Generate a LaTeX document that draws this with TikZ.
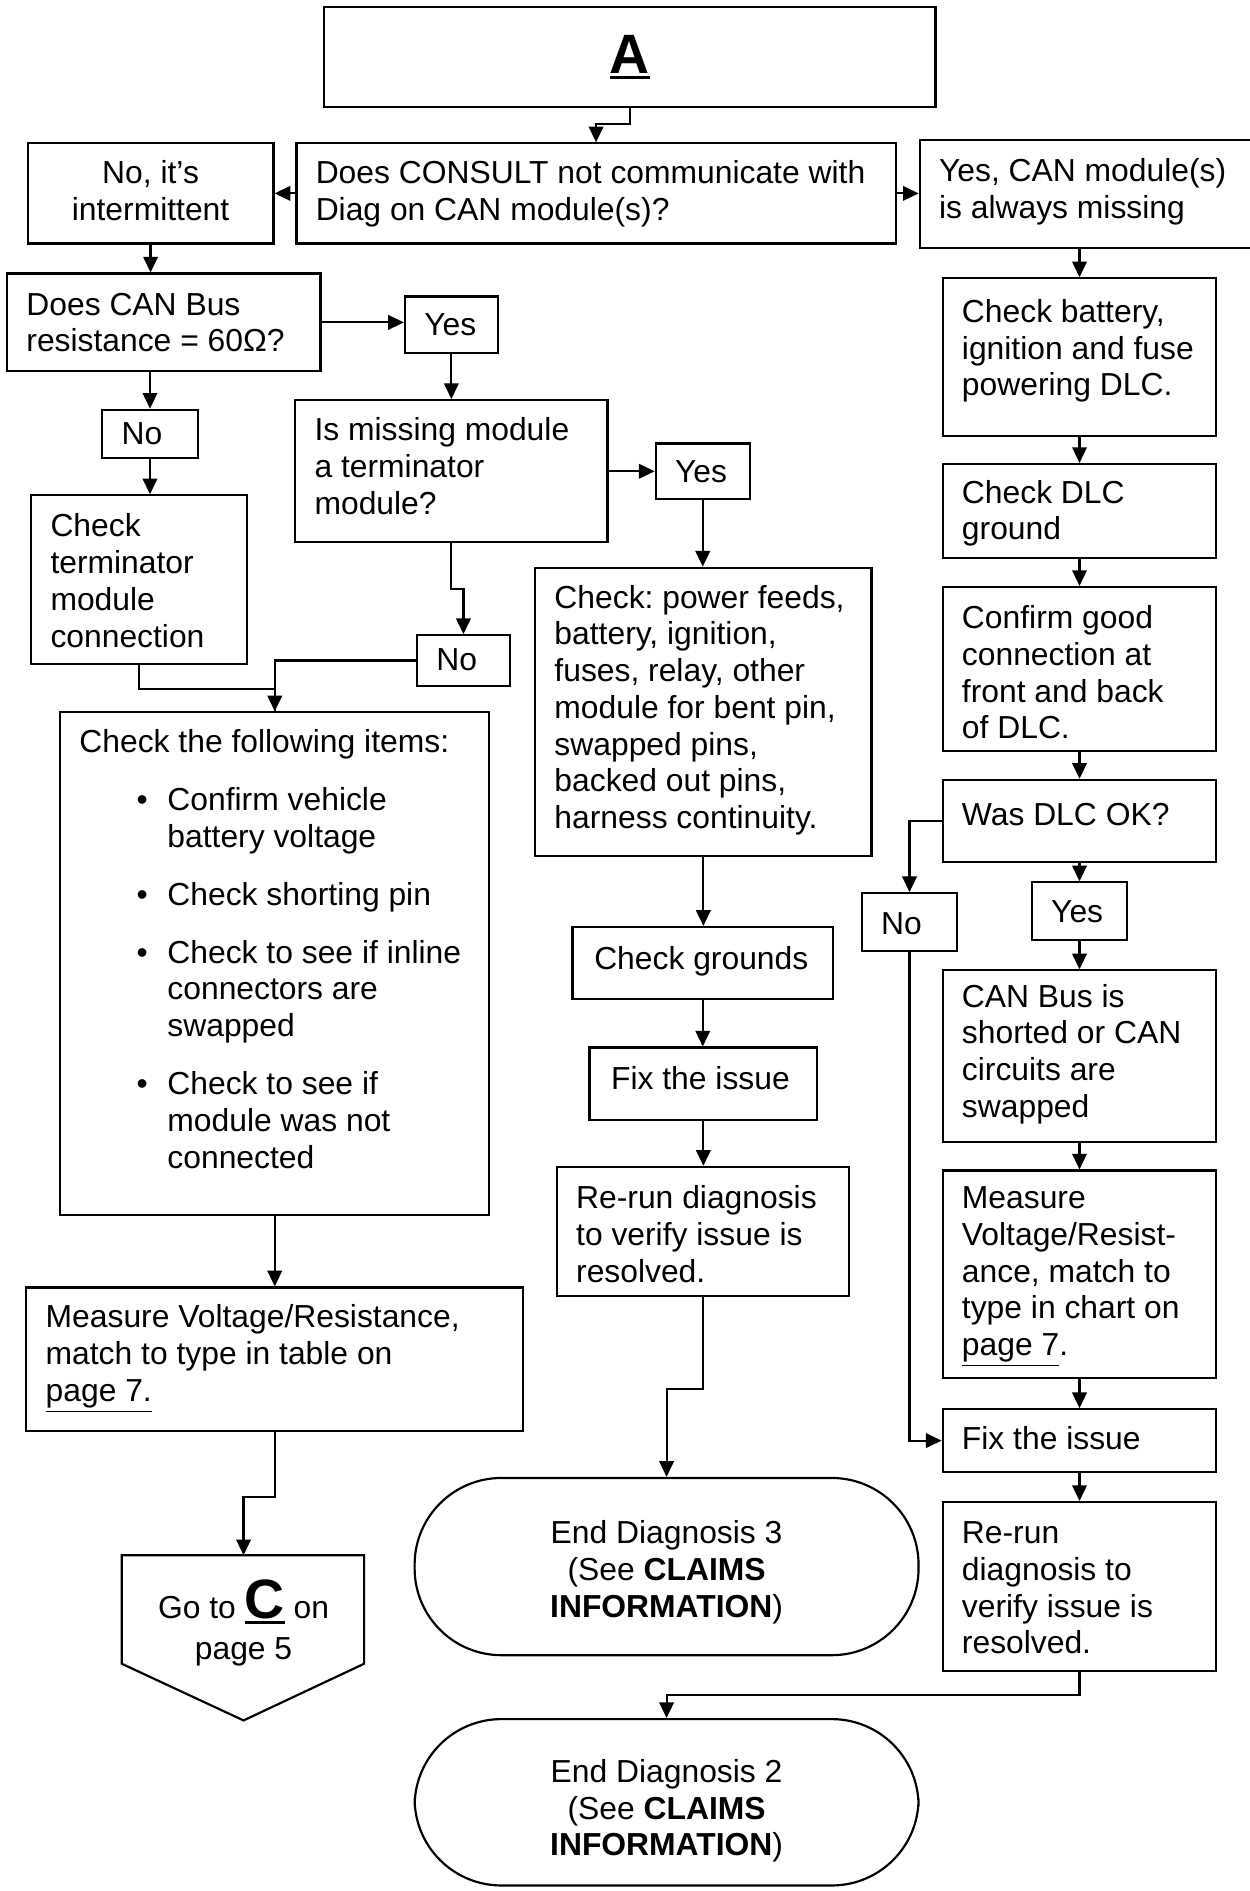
\documentclass[tikz,border=0pt]{standalone}
\usepackage{fontspec}
\setmainfont{Liberation Sans}
\usetikzlibrary{arrows.meta}
\frenchspacing

\newcommand{\fs}{\fontsize{13.2}{15.25}\selectfont}
% box text: width, height, first baseline (all in picture units), text
\newcommand{\tb}[4]{\parbox[t][\dimexpr#2pt/2\relax][t]{\dimexpr#1pt/2\relax}{\raggedright\leftskip=8pt\rule{0pt}{\dimexpr#3pt/2\relax}#4}}
\newcommand{\thickul}[1]{\vtop{\hbox{#1}\kern1pt\hrule height1.4pt}}
\newcommand{\bigletter}[1]{\thickul{\fontsize{23}{23}\selectfont\bfseries #1}}
\newcommand{\itm}{\par\vspace{8.75pt}\leavevmode\llap{\textbullet\hspace{8.2pt}}}

\begin{document}
\begin{tikzpicture}[x=0.5pt,y=-0.5pt,font=\fs,
 box/.style={draw,line width=0.9pt,anchor=north west,inner sep=0pt},
 term/.style={draw,line width=0.9pt,anchor=north west,inner sep=0pt,rounded corners=36pt},
 conn/.style={line width=0.9pt},
 arr/.style={line width=0.9pt,-{Triangle[length=6.5pt,width=6pt]}}]
 \useasboundingbox (0,0) rectangle (1036,1568.5);

 % top
 \node[box,minimum width=253.5pt,minimum height=41.5pt] (a) at (268,5) {\bigletter{A}};
 \node[box] (q1) at (245,118) {\tb{497}{83}{33.5}{Does CONSULT not communicate with\\Diag on CAN module(s)?}};
 \node[box] (nint) at (22,118) {\tb{204}{83}{33.5}{\centering No, it’s\\intermittent}};
 \node[box] (ycan) at (762,115) {\tb{280}{90}{34.5}{Yes, CAN module(s)\\is always missing}};

 % left branch
 \node[box] (q2) at (5,226) {\tb{260}{81}{34.5}{Does CAN Bus\\resistance = 60Ω?}};
 \node[box] (y1) at (335,245) {\tb{77}{47}{32.5}{Yes}};
 \node[box] (n1) at (84,339) {\tb{79}{40}{28.5}{No}};
 \node[box] (q3) at (244,331) {\tb{259}{118}{33.5}{Is missing module\\a terminator\\module?}};
 \node[box] (ckterm) at (25,410) {\tb{179}{140}{34.5}{Check\\terminator\\module\\connection}};
 \node[box] (n2) at (345,526) {\tb{77}{42}{29.5}{No}};
 \node[box] (items) at (49,590) {\tb{356}{417}{33.5}{Check the following items:\par
   \leftskip=44.5pt
   \itm Confirm vehicle\\battery voltage
   \itm Check shorting pin
   \itm Check to see if inline\\connectors are\\swapped
   \itm Check to see if\\module was not\\connected}};
 \node[box] (meas) at (21,1067) {\tb{412}{119}{33.5}{Measure Voltage/Resistance,\\match to type in table on\\\underline{page 7.}}};
 \node (goc) at (202,1346) [align=center] {Go to \bigletter{C} on\\[2pt]page 5};
 \coordinate (gotop) at (202,1290);
 \draw[line width=0.9pt] (101,1290) -- (302,1290) -- (302,1380) -- (202,1427) -- (101,1380) -- cycle;

 % middle branch
 \node[box] (y2) at (543,367) {\tb{78}{46}{32.5}{Yes}};
 \node[box] (ckpow) at (443,470) {\tb{279}{239}{33.5}{Check: power feeds,\\battery, ignition,\\fuses, relay, other\\module for bent pin,\\swapped pins,\\backed out pins,\\harness continuity.}};
 \node[box] (ckgnd) at (474,768) {\tb{216}{60}{35.5}{\hspace{1pt}Check grounds}};
 \node[box] (fix1) at (488,868) {\tb{189}{60}{34.5}{\hspace{1pt}Fix the issue}};
 \node[box] (rerun1) at (461,967) {\tb{242}{107}{34.5}{Re-run diagnosis\\to verify issue is\\resolved.}};
 \node[term] (end3) at (343,1225) {\tb{418}{147}{54.5}{\centering End Diagnosis 3\\(See \textbf{CLAIMS}\\\textbf{INFORMATION})}};

 % right branch
 \node[box] (ckbat) at (781,230) {\tb{227}{131}{36.5}{Check battery,\\ignition and fuse\\powering DLC.}};
 \node[box] (ckdlc) at (781,384) {\tb{227}{78}{32.5}{Check DLC\\ground}};
 \node[box] (conf) at (781,486) {\tb{227}{136}{34.5}{Confirm good\\connection at\\front and back\\of DLC.}};
 \node[box] (wasdlc) at (781,646) {\tb{227}{68}{37.5}{Was DLC OK?}};
 \node[box] (n3) at (714,740) {\tb{79}{48}{34.5}{No}};
 \node[box] (y3) at (855,731) {\tb{79}{48}{33.5}{Yes}};
 \node[box] (short) at (781,804) {\tb{227}{142}{30.5}{CAN Bus is\\shorted or CAN\\circuits are\\swapped}};
 \node[box] (meas2) at (781,970) {\tb{227}{172}{31.5}{Measure\\Voltage/Resist-\\ance, match to\\type in chart on\\\underline{page 7}.}};
 \node[box] (fix2) at (781,1168) {\tb{227}{52}{33.5}{Fix the issue}};
 \node[box] (rerun2) at (781,1245) {\tb{227}{140}{34.5}{Re-run\\diagnosis to\\verify issue is\\resolved.}};
 \node[term] (end2) at (343,1425) {\tb{418}{138}{52.5}{\centering End Diagnosis 2\\(See \textbf{CLAIMS}\\\textbf{INFORMATION})}};

 % connectors
 \draw[arr] (a.south) -- ++(0,13) -| (q1.north);
 \draw[arr] (q1.west) -- (nint.east);
 \draw[arr] (q1.east) -- (q1.east -| ycan.west);
 \draw[arr] (nint.south) -- (nint.south |- q2.north);
 \draw[arr] (q2.east) -- (q2.east -| y1.west);
 \draw[arr] (y1.south) -- (q3.north);
 \draw[arr] (n1.north |- q2.south) -- (n1.north);
 \draw[arr] (n1.south) -- (n1.south |- ckterm.north);
 \draw[arr] (q3.east) -- (q3.east -| y2.west);
 \draw[arr] (q3.south) -- ++(0,38) -| (n2.north);
 \draw[arr] (n2.west) -| (items.north);
 \draw[conn] (ckterm.south) -- ++(0,20) -| (items.north);
 \draw[arr] (items.south) -- (items.south |- meas.north);
 \draw[arr] (meas.south) -- ++(0,54) -| (gotop);
 \draw[arr] (y2.south) -- (y2.south |- ckpow.north);
 \draw[arr] (ckpow.south) -- (ckpow.south |- ckgnd.north);
 \draw[arr] (ckgnd.south) -- (ckgnd.south |- fix1.north);
 \draw[arr] (fix1.south) -- (fix1.south |- rerun1.north);
 \draw[arr] (rerun1.south) -- ++(0,76) -| (end3.north);
 \draw[arr] (ckbat.north |- ycan.south) -- (ckbat.north);
 \draw[arr] (ckbat.south) -- (ckdlc.north);
 \draw[arr] (ckdlc.south) -- (conf.north);
 \draw[arr] (conf.south) -- (wasdlc.north);
 \draw[arr] (wasdlc.west) -| (n3.north);
 \draw[arr] (wasdlc.south) -- (y3.north);
 \draw[arr] (y3.south) -- (short.north);
 \draw[arr] (short.south) -- (meas2.north);
 \draw[arr] (meas2.south) -- (fix2.north);
 \draw[arr] (n3.south) |- (fix2.west);
 \draw[arr] (fix2.south) -- (rerun2.north);
 \draw[arr] (rerun2.south) -- ++(0,19) -| (end2.north);
\end{tikzpicture}
\end{document}
